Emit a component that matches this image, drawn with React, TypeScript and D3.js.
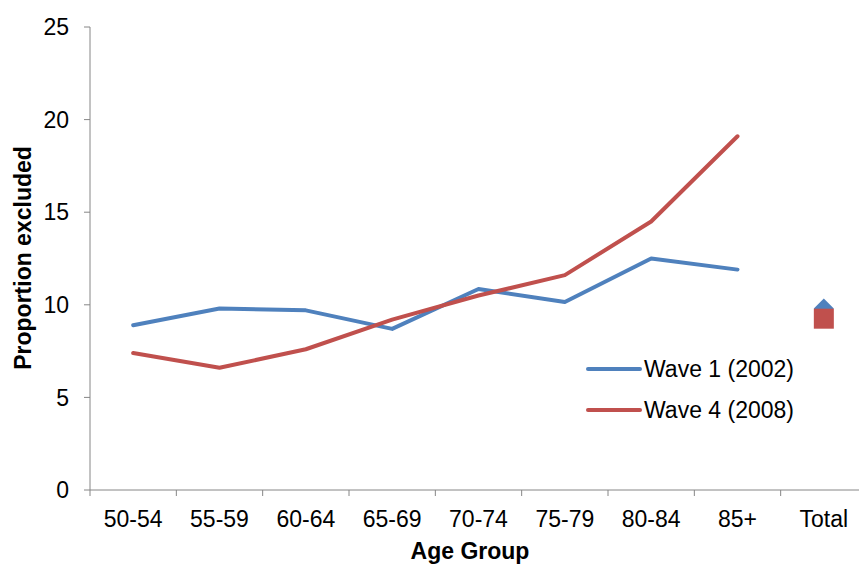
import React from 'react'
import * as d3 from 'd3'

const ageGroups = ['50-54', '55-59', '60-64', '65-69', '70-74', '75-79', '80-84', '85+', 'Total']
const wave1 = [8.9, 9.8, 9.7, 8.7, 10.85, 10.15, 12.5, 11.9]
const wave4 = [7.4, 6.6, 7.6, 9.2, 10.5, 11.6, 14.5, 19.1]
const wave1Total = 9.8
const wave4Total = 9.25
const yTicks = [0, 5, 10, 15, 20, 25]

const W = 859, H = 567
const font = 'Liberation Sans, Arial, sans-serif'
const blue = '#4f81bd'
const red = '#c0504d'
const axisCol = '#868686'
const fs = 23

export default function App() {
    const x = d3.scaleBand().domain(ageGroups).range([90, 867])
    const y = d3.scaleLinear().domain([0, 25]).range([490, 27])
    const cx = (g: string) => x(g)! + x.bandwidth() / 2
    const line = d3.line<number>()
        .x((_, i) => cx(ageGroups[i]))
        .y(d => y(d))

    const tx = cx('Total')
    const d1 = y(wave1Total)
    const s4 = y(wave4Total)

    return (
        <svg width={W} height={H} style={{ position: 'absolute', left: 0, top: 0 }} fontFamily={font}>
            <rect width={W} height={H} fill='white' />
            {/* axes */}
            <line x1={90} x2={90} y1={27} y2={490} stroke={axisCol} strokeWidth={1} />
            <line x1={90} x2={867} y1={490} y2={490} stroke={axisCol} strokeWidth={1} />
            {yTicks.map(t => <g key={t}>
                <line x1={84} x2={90} y1={y(t)} y2={y(t)} stroke={axisCol} />
                <text x={69} y={y(t)} dy='0.36em' textAnchor='end' fontSize={fs} fill='#000'>{t}</text>
            </g>)}
            {ageGroups.map(g => <g key={g}>
                <line x1={x(g)!} x2={x(g)!} y1={490} y2={496} stroke={axisCol} />
                <text x={cx(g)} y={527} textAnchor='middle' fontSize={fs} fill='#000'>{g}</text>
            </g>)}
            <line x1={867} x2={867} y1={490} y2={496} stroke={axisCol} />

            {/* lines */}
            <path d={line(wave1)!} fill='none' stroke={blue} strokeWidth={4} strokeLinejoin='round' strokeLinecap='round' />
            <path d={line(wave4)!} fill='none' stroke={red} strokeWidth={4} strokeLinejoin='round' strokeLinecap='round' />

            {/* totals */}
            <path d={`M${tx},${d1 - 10}L${tx + 10},${d1}L${tx},${d1 + 10}L${tx - 10},${d1}Z`} fill={blue} />
            <rect x={tx - 10} y={s4 - 10} width={20} height={20} fill={red} />

            {/* legend */}
            <line x1={588} x2={640} y1={369} y2={369} stroke={blue} strokeWidth={4} strokeLinecap='round' />
            <text x={644} y={369} dy='0.36em' fontSize={fs}>Wave 1 (2002)</text>
            <line x1={588} x2={640} y1={410} y2={410} stroke={red} strokeWidth={4} strokeLinecap='round' />
            <text x={644} y={410} dy='0.36em' fontSize={fs}>Wave 4 (2008)</text>

            {/* titles */}
            <text x={470} y={559} textAnchor='middle' fontSize={fs} fontWeight='bold'>Age Group</text>
            <text transform={`translate(31,258) rotate(-90)`} textAnchor='middle' fontSize={fs} fontWeight='bold'>Proportion excluded</text>
        </svg>
    )
}
